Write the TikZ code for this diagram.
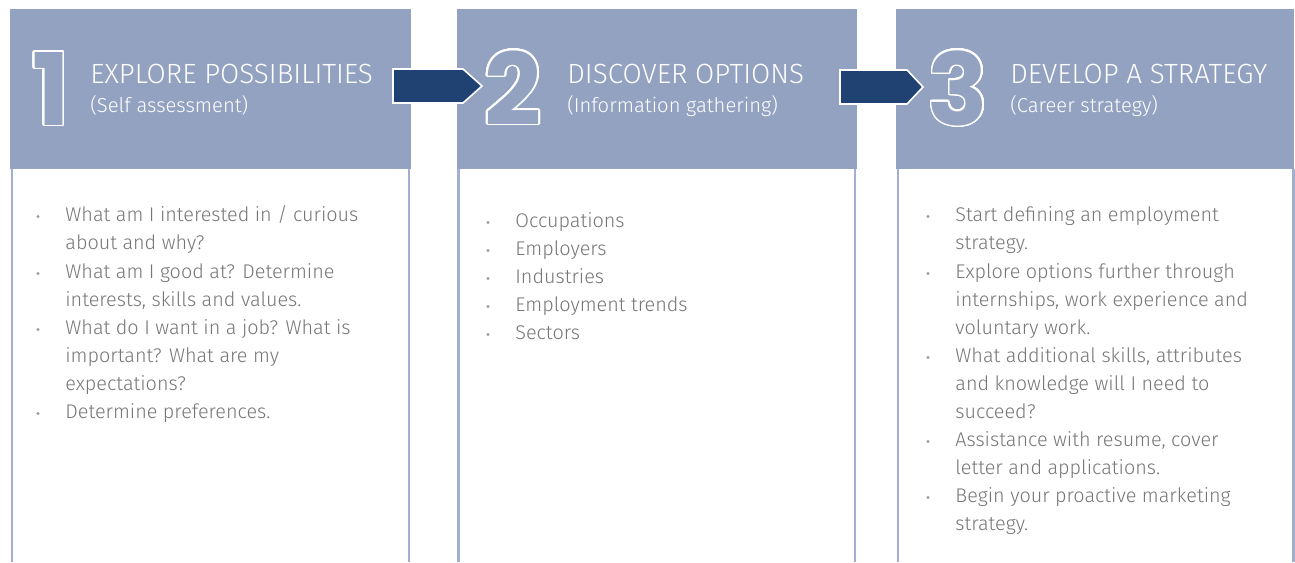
\documentclass[tikz,border=0pt]{standalone}
\usepackage{fontspec}
\setmainfont{Fira Sans}[UprightFont=* Light]
\newfontfamily\digitfont{Poppins}
\usepackage{contour}
\contourlength{0.8pt}
\contournumber{32}

\definecolor{headblue}{HTML}{94A2C1}
\definecolor{edgeblue}{HTML}{A2AFCE}
\definecolor{arrownavy}{HTML}{1F4273}
\definecolor{textgray}{HTML}{767676}
\definecolor{dotgray}{HTML}{9A9A9A}

\tikzset{
  headtitle/.style={anchor=base west, inner sep=0pt, text=white,
    font=\fontsize{13.9}{16}\selectfont},
  headsub/.style={anchor=base west, inner sep=0pt, text=white,
    font=\fontsize{10.1}{14}\selectfont},
  bignum/.style={anchor=base, inner sep=0pt, text=headblue,
    font=\digitfont\bfseries\fontsize{50}{50}\selectfont},
  flowarrow/.style={fill=arrownavy, draw=white, line width=0.8pt},
  edgeline/.style={draw=edgeblue, line width=1.25pt},
  % anchored on the baseline of the last line
  itemtext/.style={anchor=base west, inner sep=0pt, align=left, text=textgray,
    font=\fontsize{9.9}{14}\selectfont},
  itemdot/.style={fill=dotgray}
}

\begin{document}
\begin{tikzpicture}[x=0.5pt, y=-0.5pt]
  \fill[white] (0,0) rectangle (1295,562);
  \useasboundingbox (0,0) rectangle (1295,562);
  % header bands
  \foreach \l/\r in {10/411, 457/857, 896/1294} {
    \fill[headblue] (\l,9) rectangle (\r,169);
  }
  % side rules of the lists
  \foreach \x in {12, 409, 458.5, 855, 898, 1293.5} {
    \draw[edgeline] (\x,169) -- (\x,562);
  }
  % arrows between the steps
  \draw[flowarrow] (393,69) -- (463,69) -- (482,86) -- (463,103) -- (393,103) -- cycle;
  \draw[flowarrow] (840,70) -- (907,70) -- (923,87) -- (907,104) -- (840,104) -- cycle;
  % step numbers
  \node[bignum] (num1) at (51,125)  {\contour{white}{1}};
  \node[bignum] (num2) at (513,125) {\contour{white}{2}};
  \node[bignum] (num3) at (958,125) {\contour{white}{3}};
  % titles
  \node[headtitle] (title1) at (90,83)   {EXPLORE POSSIBILITIES};
  \node[headsub]   (sub1)   at (90,112)  {(Self assessment)};
  \node[headtitle] (title2) at (567,83)  {DISCOVER OPTIONS};
  \node[headsub]   (sub2)   at (567,112) {(Information gathering)};
  \node[headtitle] (title3) at (1010,83)  {DEVELOP A STRATEGY};
  \node[headsub]   (sub3)   at (1010,112) {(Career strategy)};
  % lists: first baseline / number of lines / text
  \foreach \yy/\n/\txt [count=\i] in {
      221/2/{What am I interested in / curious\\about and why?},
      278/2/{What am I good at? Determine\\interests, skills and values.},
      334/3/{What do I want in a job? What is\\important? What are my\\expectations?},
      418/1/{Determine preferences.}} {
    \fill[itemdot] (38,\yy-4.5) circle (1.6);
    \node[itemtext] (explore\i) at (65,{\yy+28*(\n-1)}) {\txt};
  }
  \foreach \yy/\txt [count=\i] in {
      227/Occupations, 255/Employers, 283/Industries,
      311/Employment trends, 339/Sectors} {
    \fill[itemdot] (488,\yy-4.5) circle (1.6);
    \node[itemtext] (discover\i) at (515,\yy) {\txt};
  }
  \foreach \yy/\n/\txt [count=\i] in {
      221/2/{Start defining an employment\\strategy.},
      278/3/{Explore options further through\\internships, work experience and\\voluntary work.},
      362/3/{What additional skills, attributes\\and knowledge will I need to\\succeed?},
      446/2/{Assistance with resume, cover\\letter and applications.},
      502/2/{Begin your proactive marketing\\strategy.}} {
    \fill[itemdot] (928,\yy-4.5) circle (1.6);
    \node[itemtext] (develop\i) at (955,{\yy+28*(\n-1)}) {\txt};
  }
\end{tikzpicture}
\end{document}
